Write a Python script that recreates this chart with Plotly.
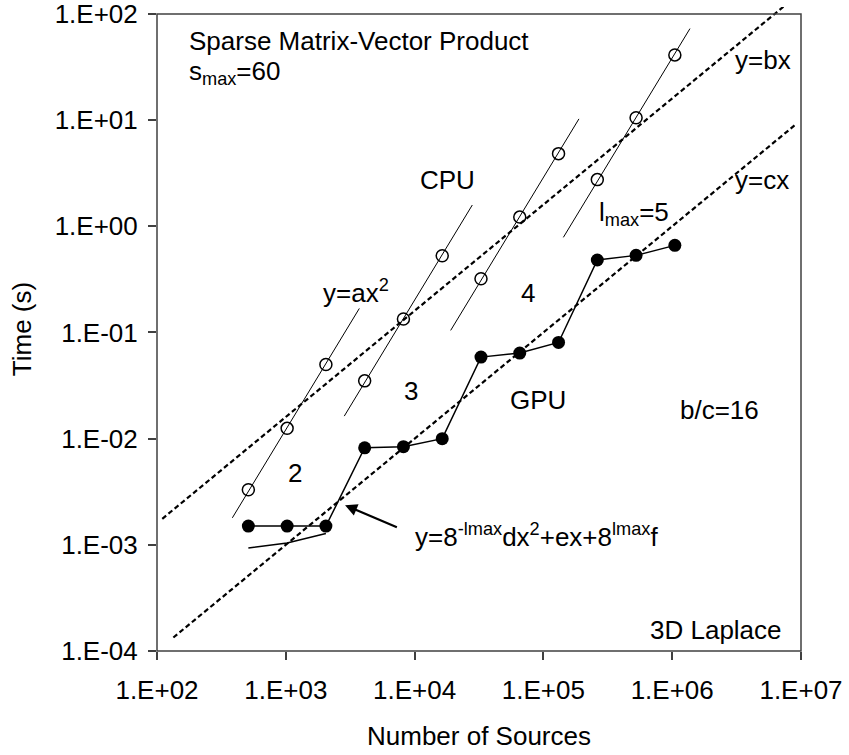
import numpy as np
import plotly.graph_objects as go

# Problem sizes: 2^9 .. 2^20 sources
n_sources = [512, 1024, 2048, 4096, 8192, 16384, 32768, 65536,
             131072, 262144, 524288, 1048576]

# CPU timings (s), grouped by l_max = 2, 3, 4, 5
cpu_time = [3.3e-3, 1.25e-2, 5.0e-2,
            3.5e-2, 0.134, 0.527,
            0.321, 1.22, 4.83,
            2.75, 10.5, 41.1]
cpu_groups = [(0, 3), (3, 6), (6, 9), (9, 12)]
# log10 extents of the y = a x^2 fit line drawn for each group
fit_lo = [2.585, 3.454, 4.280, 5.155]
fit_hi = [3.571, 4.448, 5.276, 6.138]

# GPU timings (s)
gpu_time = [1.5e-3, 1.5e-3, 1.5e-3,
            8.2e-3, 8.4e-3, 1.0e-2,
            5.86e-2, 6.4e-2, 8.05e-2,
            0.481, 0.532, 0.661]

# GPU model curve y = 8^-lmax d x^2 + e x + 8^lmax f on the first level
gpu_model_x = [512, 1024, 2048]
gpu_model_y = [9.35e-4, 1.04e-3, 1.28e-3]

# Linear reference lines y = b x and y = c x (b/c = 16)
c_coef = 1.0e-6
b_coef = 16 * c_coef
bx_span = [2.041, 6.870]
cx_span = [2.127, 6.959]

x_tickvals = [1e2, 1e3, 1e4, 1e5, 1e6, 1e7]
x_ticktext = ["1.E+02", "1.E+03", "1.E+04", "1.E+05", "1.E+06", "1.E+07"]
y_tickvals = [1e-4, 1e-3, 1e-2, 1e-1, 1e0, 1e1, 1e2]
y_ticktext = ["1.E-04", "1.E-03", "1.E-02", "1.E-01", "1.E+00", "1.E+01", "1.E+02"]

FONT = "Liberation Sans, Arial, Helvetica, sans-serif"
FS = 26
INK = "black"
AXIS = "#404040"

fig = go.Figure()

# Reference lines (dashed)
for coef, span in [(b_coef, bx_span), (c_coef, cx_span)]:
    xs = 10 ** np.array(span)
    fig.add_trace(go.Scatter(x=xs, y=coef * xs, mode="lines",
                             line=dict(color=INK, width=2.2, dash="5px,3px"),
                             hoverinfo="skip", showlegend=False))

# y = a x^2 fits per CPU group (least squares in log space)
nx = np.array(n_sources, dtype=float)
ct = np.array(cpu_time)
for (i0, i1), lo, hi in zip(cpu_groups, fit_lo, fit_hi):
    lx = np.log10(nx[i0:i1])
    ly = np.log10(ct[i0:i1])
    log_a = np.mean(ly - 2 * lx)
    xs = 10 ** np.array([lo, hi])
    fig.add_trace(go.Scatter(x=xs, y=10 ** log_a * xs ** 2, mode="lines",
                             line=dict(color=INK, width=1),
                             hoverinfo="skip", showlegend=False))

# GPU model curve
fig.add_trace(go.Scatter(x=gpu_model_x, y=gpu_model_y, mode="lines",
                         line=dict(color=INK, width=1.5),
                         hoverinfo="skip", showlegend=False))

# GPU measurements
fig.add_trace(go.Scatter(x=n_sources, y=gpu_time, mode="lines+markers",
                         line=dict(color=INK, width=1.5),
                         marker=dict(symbol="circle", size=13, color=INK),
                         name="GPU", showlegend=False))

# CPU measurements
fig.add_trace(go.Scatter(x=n_sources, y=cpu_time, mode="markers",
                         marker=dict(symbol="circle-open", size=12, color=INK,
                                     line=dict(width=1.5)),
                         name="CPU", showlegend=False))

def label(text, lx, ly, xanchor="center", size=FS):
    fig.add_annotation(x=lx, y=ly, xref="x", yref="y", text=text,
                       showarrow=False, xanchor=xanchor, yanchor="middle",
                       font=dict(family=FONT, size=size, color=INK))

label("Sparse Matrix-Vector Product", 2.231, 1.745, "left")
label("s<sub>max</sub>=60", 2.231, 1.45, "left")
label("CPU", 4.252, 0.440)
label("y=ax<sup>2</sup>", 3.545, -0.615)
label("2", 3.071, -2.321)
label("3", 3.972, -1.548)
label("4", 4.880, -0.624)
label("GPU", 4.958, -1.633)
label("b/c=16", 6.371, -1.732)
label("y=bx", 6.472, 1.562, "left")
label("y=cx", 6.472, 0.440, "left")
label("l<sub>max</sub>=5", 5.414, 0.120, "left")
label("3D Laplace", 6.868, -3.800, "right")
label("y=8<sup>-lmax</sup>dx<sup>2</sup>+ex+8<sup>lmax</sup>f", 3.988, -2.910, "left")

# Arrow pointing at the GPU model curve
fig.add_annotation(x=3.460, y=-2.627, xref="x", yref="y",
                   ax=3.874, ay=-2.84, axref="x", ayref="y",
                   text="", showarrow=True, arrowhead=2, arrowsize=1.1,
                   arrowwidth=2.2, arrowcolor=INK)

y_lo, y_hi = -4.0, 2.065
frame_top = (2.0 - y_lo) / (y_hi - y_lo)
fig.add_shape(type="rect", xref="paper", yref="paper",
              x0=0, x1=1, y0=0, y1=frame_top,
              line=dict(color=AXIS, width=1.5), layer="above")

fig.update_xaxes(type="log", range=[2, 7], tickvals=x_tickvals, ticktext=x_ticktext,
                 ticks="outside", ticklen=8, tickwidth=1.5, tickcolor=AXIS,
                 ticklabelstandoff=8, ticklabeloverflow="allow",
                 showgrid=False, zeroline=False, showline=False,
                 tickfont=dict(family=FONT, size=FS, color=INK),
                 title=dict(text="Number of Sources", standoff=22,
                            font=dict(family=FONT, size=FS, color=INK)))
fig.update_yaxes(type="log", range=[y_lo, y_hi], tickvals=y_tickvals, ticktext=y_ticktext,
                 ticks="outside", ticklen=8, tickwidth=1.5, tickcolor=AXIS,
                 ticklabelstandoff=5, ticklabeloverflow="allow",
                 showgrid=False, zeroline=False, showline=False,
                 tickfont=dict(family=FONT, size=FS, color=INK),
                 title=dict(text="Time (s)", standoff=15,
                            font=dict(family=FONT, size=FS, color=INK)))

fig.update_layout(width=849, height=755,
                  margin=dict(l=157, r=48, t=7, b=104, autoexpand=False),
                  paper_bgcolor="white", plot_bgcolor="white",
                  showlegend=False)

fig.write_html("out.html")
